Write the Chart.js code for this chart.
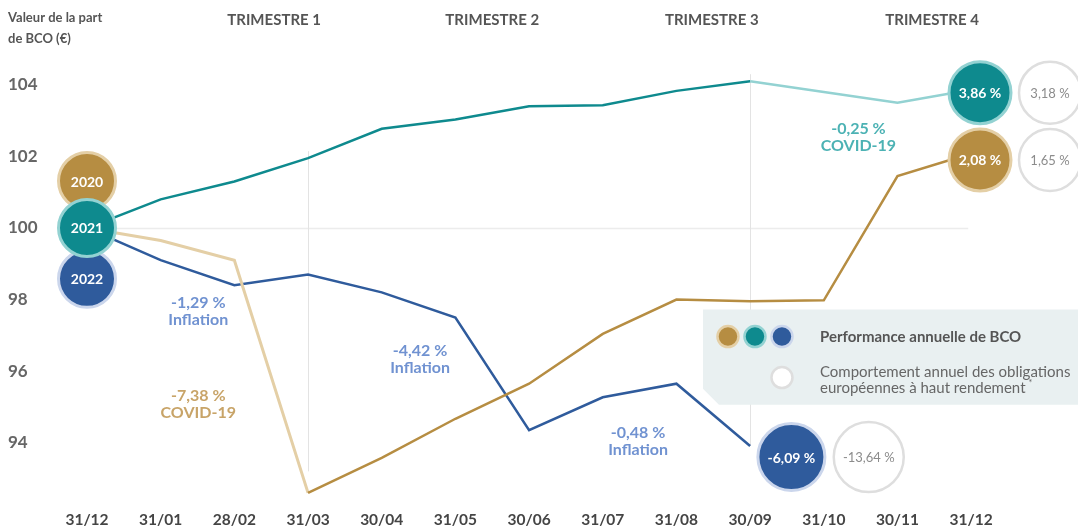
<!DOCTYPE html>
<html>
<head>
<meta charset="utf-8">
<script src="https://cdn.jsdelivr.net/npm/chart.js@4"></script>
<style>
  html, body { margin: 0; padding: 0; background: #fff; overflow: hidden; }
  canvas { display: block; }
</style>
</head>
<body>
<canvas id="bcoChart" width="1078" height="529"></canvas>
<script>
var months = ['31/12', '31/01', '28/02', '31/03', '30/04', '31/05', '30/06', '31/07', '31/08', '30/09', '31/10', '30/11', '31/12'];
var yTicks = [94, 96, 98, 100, 102, 104];
var bco2020 = [100, 99.65, 99.1, 92.6, 93.58, 94.67, 95.65, 97.04, 98.0, 97.95, 97.98, 101.45, 102.08];
var bco2021 = [100, 100.8, 101.3, 101.95, 102.77, 103.03, 103.4, 103.43, 103.83, 104.1, 103.8, 103.5, 103.86];
var bco2022 = [100, 99.1, 98.4, 98.7, 98.2, 97.5, 94.35, 95.27, 95.65, 93.91];

// year bubbles on the left (2020, 2022, 2021 so that 2021 sits on top)
var yearNames = ['2020', '2022', '2021'];
var yearValues = [101.31, 98.58, 100];

// yearly performance bubbles
var perfNames = ['3,86 %', '2,08 %', '-6,09 %'];
var perfX = [12.12, 12.12, 9.56];
var perfValues = [103.78, 101.9, 93.6];
var benchNames = ['3,18 %', '1,65 %', '-13,64 %'];
var benchX = [13.07, 13.07, 10.61];

var quarterNames = ['TRIMESTRE 1', 'TRIMESTRE 2', 'TRIMESTRE 3', 'TRIMESTRE 4'];
var quarterX = [2.54, 5.5, 8.48, 11.47];
var quarterLines = [3, 9];

var notes = [
    { a: '-1,29 %', b: 'Inflation', x: 1.51, y: 97.9, c: '#7092d1' },
    { a: '-4,42 %', b: 'Inflation', x: 4.52, y: 96.56, c: '#7092d1' },
    { a: '-7,38 %', b: 'COVID-19', x: 1.51, y: 95.3, c: '#c8a468' },
    { a: '-0,48 %', b: 'Inflation', x: 7.48, y: 94.27, c: '#7092d1' },
    { a: '-0,25 %', b: 'COVID-19', x: 10.47, y: 102.77, c: '#4cb2b4' }
];

var GOLD = '#b68d42', GOLD_LIGHT = '#e4cfa6';
var TEAL = '#0e8a8e', TEAL_LIGHT = '#93d2d2';
var BLUE = '#2f5b9c', BLUE_LIGHT = '#cbd6ec';
var FONT = 'Lato, "Open Sans", sans-serif';

function pts(arr) {
    return arr.map(function (v, i) { return { x: i, y: v }; });
}

var decor = {
    id: 'decor',
    beforeDatasetsDraw: function (chart) {
        var ctx = chart.ctx, xs = chart.scales.x, ys = chart.scales.y;
        ctx.save();
        // 100 reference line
        var y100 = Math.round(ys.getPixelForValue(100)) + 0.5;
        ctx.strokeStyle = '#ececec';
        ctx.lineWidth = 1.5;
        ctx.beginPath();
        ctx.moveTo(xs.getPixelForValue(0), y100);
        ctx.lineTo(xs.getPixelForValue(11.96), y100);
        ctx.stroke();
        // quarter separators
        ctx.strokeStyle = '#e3e3e3';
        ctx.lineWidth = 1;
        quarterLines.forEach(function (i) {
            var vals = [bco2020[i], bco2021[i], bco2022[i]].filter(function (v) { return v !== undefined; });
            var top = ys.getPixelForValue(Math.max.apply(null, vals)) - 7;
            var bot = Math.min(ys.getPixelForValue(Math.min.apply(null, vals)), ys.getPixelForValue(93.2));
            var x = Math.round(xs.getPixelForValue(i)) + 0.5;
            ctx.beginPath();
            ctx.moveTo(x, top);
            ctx.lineTo(x, bot);
            ctx.stroke();
        });
        // legend panel
        var l = xs.getPixelForValue(8.36), t = ys.getPixelForValue(97.72), b = ys.getPixelForValue(95.06);
        var r = chart.width;
        ctx.fillStyle = '#e9f0f1';
        ctx.beginPath();
        ctx.moveTo(l, t);
        ctx.lineTo(r, t);
        ctx.lineTo(r, b);
        ctx.lineTo(l + 16, b);
        ctx.lineTo(l, b - 16);
        ctx.closePath();
        ctx.fill();
        ctx.restore();
    },
    afterDatasetsDraw: function (chart) {
        var ctx = chart.ctx, xs = chart.scales.x, ys = chart.scales.y;
        ctx.save();
        ctx.textAlign = 'center';
        ctx.textBaseline = 'middle';

        // bubble labels
        chart.getDatasetMeta(3).data.forEach(function (p, i) {
            ctx.fillStyle = '#fff';
            ctx.font = 'bold 14px ' + FONT;
            ctx.fillText(yearNames[i], p.x, p.y + 1);
        });
        chart.getDatasetMeta(4).data.forEach(function (p, i) {
            ctx.fillStyle = '#fff';
            ctx.font = 'bold 14px ' + FONT;
            ctx.fillText(perfNames[i], p.x, p.y + 1);
        });
        chart.getDatasetMeta(5).data.forEach(function (p, i) {
            ctx.fillStyle = '#8c8c8c';
            ctx.font = '13px ' + FONT;
            ctx.fillText(benchNames[i], p.x, p.y + 1);
        });

        // notes
        notes.forEach(function (n) {
            var x = xs.getPixelForValue(n.x), y = ys.getPixelForValue(n.y);
            ctx.fillStyle = n.c;
            ctx.font = 'bold 16px ' + FONT;
            ctx.fillText(n.a, x, y);
            ctx.fillText(n.b, x, y + 17);
        });

        // quarter titles
        ctx.fillStyle = '#555';
        ctx.font = 'bold 15px ' + FONT;
        quarterNames.forEach(function (q, i) {
            ctx.fillText(q, xs.getPixelForValue(quarterX[i]), 20);
        });

        // axis title
        ctx.textAlign = 'left';
        ctx.font = 'bold 13px ' + FONT;
        ctx.fillText('Valeur de la part', 8, 18);
        ctx.fillText('de BCO (€)', 8, 39);

        // legend contents
        var lx = xs.getPixelForValue(8.36), ty = ys.getPixelForValue(97.72);
        var dots = [[GOLD, GOLD_LIGHT], [TEAL, TEAL_LIGHT], [BLUE, BLUE_LIGHT]];
        dots.forEach(function (d, i) {
            ctx.beginPath();
            ctx.arc(lx + 25 + i * 27, ty + 27, 10.5, 0, Math.PI * 2);
            ctx.fillStyle = d[0];
            ctx.fill();
            ctx.lineWidth = 2.5;
            ctx.strokeStyle = d[1];
            ctx.stroke();
        });
        ctx.beginPath();
        ctx.arc(lx + 79, ty + 68, 10.5, 0, Math.PI * 2);
        ctx.fillStyle = '#fff';
        ctx.fill();
        ctx.lineWidth = 2.5;
        ctx.strokeStyle = '#dedede';
        ctx.stroke();

        ctx.fillStyle = '#555';
        ctx.font = 'bold 15px ' + FONT;
        ctx.fillText('Performance annuelle de BCO', lx + 117, ty + 28);
        ctx.fillStyle = '#666';
        ctx.font = '15px ' + FONT;
        ctx.fillText('Comportement annuel des obligations', lx + 117, ty + 63);
        ctx.fillText('européennes à haut rendement', lx + 117, ty + 79);
        var w = ctx.measureText('européennes à haut rendement').width;
        ctx.font = '9px ' + FONT;
        ctx.fillText('*', lx + 120 + w, ty + 74);
        ctx.restore();
    }
};

new Chart(document.getElementById('bcoChart'), {
    type: 'line',
    data: {
        datasets: [
            {
                label: '2021',
                data: pts(bco2021),
                borderColor: TEAL,
                borderWidth: 2.5,
                pointRadius: 0,
                tension: 0,
                order: 3,
                segment: {
                    borderColor: function (c) { return c.p0DataIndex >= 9 ? TEAL_LIGHT : TEAL; }
                }
            },
            {
                label: '2020',
                data: pts(bco2020),
                borderColor: GOLD,
                borderWidth: 2.5,
                pointRadius: 0,
                tension: 0,
                order: 4,
                segment: {
                    borderColor: function (c) { return c.p0DataIndex < 3 ? GOLD_LIGHT : GOLD; },
                    borderWidth: function (c) { return c.p0DataIndex < 3 ? 3 : 2.5; }
                }
            },
            {
                label: '2022',
                data: pts(bco2022),
                borderColor: BLUE,
                borderWidth: 2.5,
                pointRadius: 0,
                tension: 0,
                order: 5
            },
            {
                type: 'scatter',
                label: 'years',
                data: yearValues.map(function (v) { return { x: 0, y: v }; }),
                pointRadius: 28.5,
                borderWidth: 3,
                backgroundColor: [GOLD, BLUE, TEAL],
                borderColor: [GOLD_LIGHT, BLUE_LIGHT, TEAL_LIGHT],
                clip: false,
                order: 0
            },
            {
                type: 'scatter',
                label: 'perf',
                data: perfValues.map(function (v, i) { return { x: perfX[i], y: v }; }),
                pointRadius: [31, 31, 33.5],
                borderWidth: 3,
                backgroundColor: [TEAL, GOLD, BLUE],
                borderColor: [TEAL_LIGHT, GOLD_LIGHT, BLUE_LIGHT],
                clip: false,
                order: 1
            },
            {
                type: 'scatter',
                label: 'bench',
                data: perfValues.map(function (v, i) { return { x: benchX[i], y: v }; }),
                pointRadius: [31, 31, 35],
                borderWidth: 2.5,
                backgroundColor: '#fff',
                borderColor: '#dedede',
                clip: false,
                order: 2
            }
        ]
    },
    options: {
        responsive: false,
        animation: false,
        layout: {
            autoPadding: false,
            padding: { left: 8, right: 0, top: 49, bottom: 0 }
        },
        plugins: {
            legend: { display: false },
            tooltip: { enabled: false }
        },
        scales: {
            x: {
                type: 'linear',
                min: 0,
                max: 13.45,
                afterFit: function (s) {
                    s.height = 29;
                    s.paddingLeft = 0;
                    s.paddingRight = 0;
                },
                afterBuildTicks: function (s) {
                    s.ticks = months.map(function (m, i) { return { value: i }; });
                },
                ticks: {
                    padding: 3,
                    maxRotation: 0,
                    autoSkip: false,
                    color: '#454545',
                    font: { family: FONT, size: 15.5, weight: 'bold' },
                    callback: function (v) { return months[v]; }
                },
                grid: { display: false },
                border: { display: false }
            },
            y: {
                min: 92.4,
                max: 105,
                afterFit: function (s) {
                    s.width = 79;
                    s.paddingTop = 0;
                    s.paddingBottom = 0;
                },
                afterBuildTicks: function (s) {
                    s.ticks = yTicks.map(function (v) { return { value: v }; });
                },
                ticks: {
                    crossAlign: 'far',
                    padding: 0,
                    color: '#666',
                    font: { family: FONT, size: 17, weight: 'bold' }
                },
                grid: { display: false },
                border: { display: false }
            }
        }
    },
    plugins: [decor]
});
</script>
</body>
</html>
